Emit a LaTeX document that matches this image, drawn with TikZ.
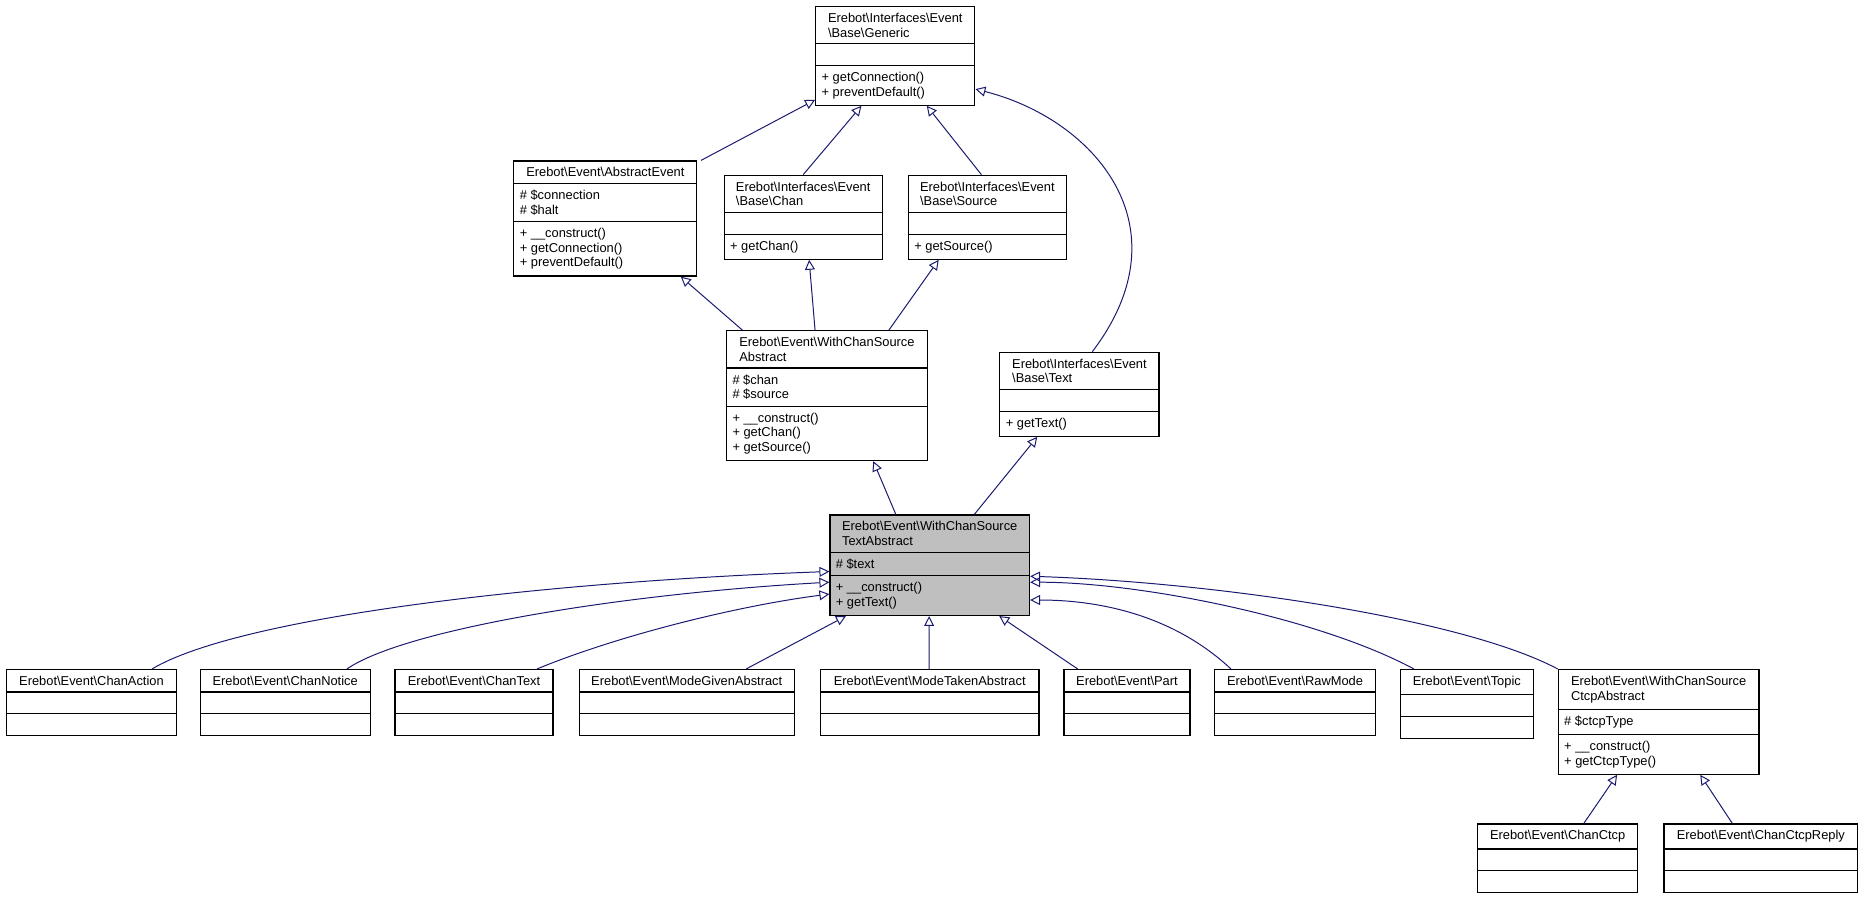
\documentclass[tikz,border=0pt]{standalone}
\usepackage{fontspec}
\setmainfont{Liberation Sans}
\usetikzlibrary{shapes.multipart,arrows.meta}
\definecolor{edgeblue}{HTML}{191970}
\tikzstyle{umlclass}=[draw, rectangle split, rectangle split parts=3, anchor=north west,
  rectangle split part align={center,left,left}, inner xsep=3pt, inner ysep=3pt,
  font=\fontsize{6.5}{7.4}\selectfont, align=left, line width=0.6pt]
\tikzstyle{parentline}=[edgeblue, line width=0.5pt, -{Triangle[open, length=5pt, width=5pt]}]
\newcommand{\nil}{\rule{0pt}{4.4pt}}
\begin{document}
\begin{tikzpicture}[x=0.6pt, y=-0.6pt]
  \useasboundingbox (0,0) rectangle (1568,761);
  \node[umlclass, minimum width=80.4pt] (Generic) at (686,5) {Erebot\textbackslash Interfaces\textbackslash Event\\\textbackslash Base\textbackslash Generic
    \nodepart{two}\nil\nodepart{three}+ getConnection()\\+ preventDefault()};
  \node[umlclass, minimum width=92.4pt] (Abstract) at (432,135) {Erebot\textbackslash Event\textbackslash AbstractEvent
    \nodepart{two}\# \$connection\\\# \$halt\nodepart{three}+ \_\_construct()\\+ getConnection()\\+ preventDefault()};
  \node[umlclass, minimum width=79.8pt] (Chan) at (609,147) {Erebot\textbackslash Interfaces\textbackslash Event\\\textbackslash Base\textbackslash Chan
    \nodepart{two}\nil\nodepart{three}+ getChan()};
  \node[umlclass, minimum width=79.8pt] (Source) at (764,147) {Erebot\textbackslash Interfaces\textbackslash Event\\\textbackslash Base\textbackslash Source
    \nodepart{two}\nil\nodepart{three}+ getSource()};
  \node[umlclass, minimum width=101.4pt] (ChanSource) at (611,278) {Erebot\textbackslash Event\textbackslash WithChanSource\\Abstract
    \nodepart{two}\# \$chan\\\# \$source\nodepart{three}+ \_\_construct()\\+ getChan()\\+ getSource()};
  \node[umlclass, minimum width=80.4pt] (Text) at (841,296) {Erebot\textbackslash Interfaces\textbackslash Event\\\textbackslash Base\textbackslash Text
    \nodepart{two}\nil\nodepart{three}+ getText()};
  \node[umlclass, minimum width=100.8pt, fill=black!25] (Main) at (698,433) {Erebot\textbackslash Event\textbackslash WithChanSource\\TextAbstract
    \nodepart{two}\# \$text\nodepart{three}+ \_\_construct()\\+ getText()};
  % derived classes
  \node[umlclass, minimum width=85.8pt] (Action) at (5,563) {Erebot\textbackslash Event\textbackslash ChanAction\nodepart{two}\nil\nodepart{three}\nil};
  \node[umlclass, minimum width=85.8pt] (Notice) at (168,563) {Erebot\textbackslash Event\textbackslash ChanNotice\nodepart{two}\nil\nodepart{three}\nil};
  \node[umlclass, minimum width=79.8pt] (ChanText) at (332,563) {Erebot\textbackslash Event\textbackslash ChanText\nodepart{two}\nil\nodepart{three}\nil};
  \node[umlclass, minimum width=108.6pt] (ModeGiven) at (487,563) {Erebot\textbackslash Event\textbackslash ModeGivenAbstract\nodepart{two}\nil\nodepart{three}\nil};
  \node[umlclass, minimum width=110.4pt] (ModeTaken) at (690,563) {Erebot\textbackslash Event\textbackslash ModeTakenAbstract\nodepart{two}\nil\nodepart{three}\nil};
  \node[umlclass, minimum width=63.6pt] (Part) at (895,563) {Erebot\textbackslash Event\textbackslash Part\nodepart{two}\nil\nodepart{three}\nil};
  \node[umlclass, minimum width=81pt] (RawMode) at (1022,563) {Erebot\textbackslash Event\textbackslash RawMode\nodepart{two}\nil\nodepart{three}\nil};
  \node[umlclass, minimum width=67.2pt] (Topic) at (1178,563) {Erebot\textbackslash Event\textbackslash Topic\nodepart{two}\nil\nodepart{three}\nil};
  \node[umlclass, minimum width=101.4pt] (Ctcp) at (1311,563) {Erebot\textbackslash Event\textbackslash WithChanSource\\CtcpAbstract
    \nodepart{two}\# \$ctcpType\nodepart{three}+ \_\_construct()\\+ getCtcpType()};
  \node[umlclass, minimum width=81pt] (ChanCtcp) at (1243,693) {Erebot\textbackslash Event\textbackslash ChanCtcp\nodepart{two}\nil\nodepart{three}\nil};
  \node[umlclass, minimum width=97.8pt] (CtcpReply) at (1400,693) {Erebot\textbackslash Event\textbackslash ChanCtcpReply\nodepart{two}\nil\nodepart{three}\nil};
  % inheritance
  \draw[parentline] ([xshift=94.8pt]Abstract.north west) -- ([yshift=3pt]Generic.south west);
  \draw[parentline] (Chan.north) -- ([xshift=23.4pt]Generic.south west);
  \draw[parentline] ([xshift=-3pt]Source.north) -- ([xshift=56.4pt]Generic.south west);
  \draw[parentline] ([xshift=47pt]Text.north west) .. controls (1000,190) and (920,100) .. ([yshift=-42pt]Generic.north east);
  \draw[parentline] ([xshift=8.4pt]ChanSource.north west) -- ([xshift=84.6pt]Abstract.south west);
  \draw[parentline] ([xshift=45pt]ChanSource.north west) -- ([xshift=43.2pt]Chan.south west);
  \draw[parentline] ([xshift=82.2pt]ChanSource.north west) -- ([xshift=15.6pt]Source.south west);
  \draw[parentline] ([xshift=33.6pt]Main.north west) -- ([xshift=74.4pt]ChanSource.south west);
  \draw[parentline] ([xshift=73.2pt]Main.north west) -- ([xshift=19.2pt]Text.south west);
  \draw[parentline] ([xshift=73.8pt]Action.north west) .. controls (200,520) and (450,490) .. ([yshift=-28.8pt]Main.north west);
  \draw[parentline] ([xshift=74.4pt]Notice.north west) .. controls (340,530) and (520,500) .. ([yshift=-34.2pt]Main.north west);
  \draw[parentline] ([xshift=72pt]ChanText.north west) .. controls (520,535) and (620,510) .. ([yshift=-40.2pt]Main.north west);
  \draw[parentline] ([xshift=84.6pt]ModeGiven.north west) -- ([xshift=8.4pt]Main.south west);
  \draw[parentline] ([xshift=55.2pt]ModeTaken.north west) -- ([xshift=50.4pt]Main.south west);
  \draw[parentline] ([xshift=7.2pt]Part.north west) -- ([xshift=-15.6pt]Main.south east);
  \draw[parentline] ([xshift=8.4pt]RawMode.north west) .. controls (990,520) and (930,505) .. ([yshift=-43.2pt]Main.north east);
  \draw[parentline] ([xshift=7.2pt]Topic.north west) .. controls (1110,520) and (960,490) .. ([yshift=-34.2pt]Main.north east);
  \draw[parentline] (Ctcp.north west) .. controls (1230,520) and (1020,490) .. ([yshift=-31.2pt]Main.north east);
  \draw[parentline] ([xshift=54pt]ChanCtcp.north west) -- ([xshift=30pt]Ctcp.south west);
  \draw[parentline] ([xshift=34.8pt]CtcpReply.north west) -- ([xshift=72pt]Ctcp.south west);
\end{tikzpicture}
\end{document}
